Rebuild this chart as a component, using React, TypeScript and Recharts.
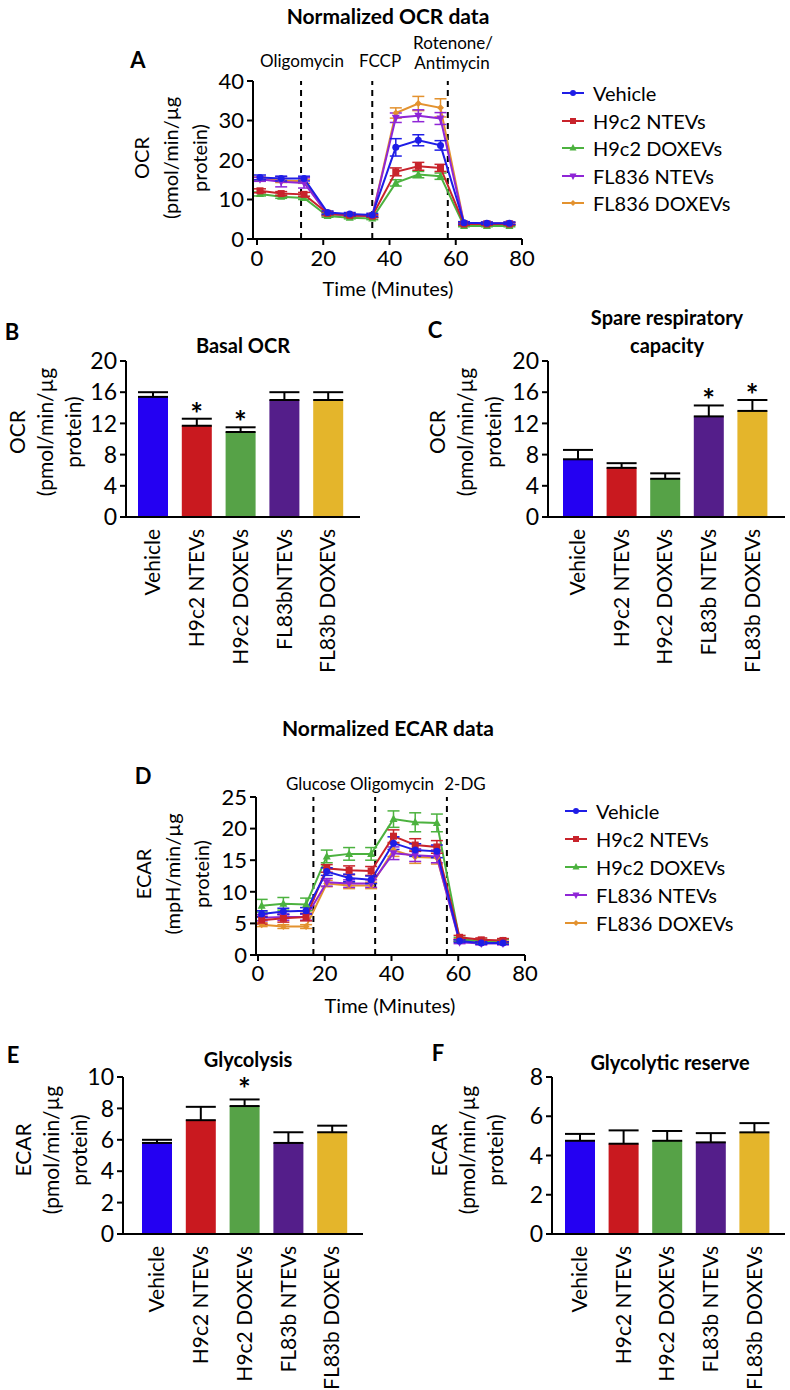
import React from "react";
import {
  Bar,
  Cell,
  ComposedChart,
  ErrorBar,
  Line,
  LineChart,
  ReferenceLine,
  XAxis,
  YAxis,
} from "recharts";

const FONT = "Lato, 'Open Sans', sans-serif";

// series shared by both time-course panels
const groups = ["Vehicle", "H9c2 NTEVs", "H9c2 DOXEVs", "FL836 NTEVs", "FL836 DOXEVs"];
const lineColors = ["#1f1de6", "#c8232b", "#4cb23f", "#8f26d6", "#e3922f"];
const markerShapes = ["circle", "square", "triangle", "triangleDown", "diamond"];

// bar panels
const barCategoriesB = ["Vehicle", "H9c2 NTEVs", "H9c2 DOXEVs", "FL83bNTEVs", "FL83b DOXEVs"];
const barCategories = ["Vehicle", "H9c2 NTEVs", "H9c2 DOXEVs", "FL83b NTEVs", "FL83b DOXEVs"];
const barColors = ["#2400f2", "#c9191f", "#56a247", "#541e8a", "#e4b52b"];

// A: OCR time course
const ocrTime = [0.9, 7.3, 14.2, 21.3, 28.0, 34.8, 41.9, 48.7, 55.4, 62.5, 69.4, 76.2];
const ocrVehicle = [15.6, 15.3, 15.3, 6.7, 6.3, 6.1, 23.2, 25.0, 23.7, 4.1, 4.0, 4.0];
const ocrH9NT = [12.2, 11.5, 11.3, 6.5, 6.0, 5.8, 17.0, 18.4, 18.0, 3.8, 3.8, 3.8];
const ocrH9DOX = [11.4, 10.7, 10.4, 5.8, 5.4, 5.2, 14.2, 16.3, 15.9, 3.3, 3.3, 3.3];
const ocrFLNT = [15.1, 14.5, 14.2, 6.3, 6.0, 5.8, 30.7, 31.2, 30.5, 3.9, 3.9, 3.9];
const ocrFLDOX = [15.2, 14.8, 14.6, 6.2, 5.9, 5.7, 31.9, 34.3, 33.2, 4.0, 4.0, 4.0];
const ocrVehicleErr = [0.6, 0.6, 0.6, 0.4, 0.4, 0.4, 2.2, 1.4, 1.2, 0.3, 0.3, 0.3];
const ocrH9NTErr = [0.5, 0.5, 0.5, 0.4, 0.3, 0.3, 1.0, 1.0, 0.9, 0.3, 0.3, 0.3];
const ocrH9DOXErr = [0.5, 0.4, 0.4, 0.3, 0.3, 0.3, 0.8, 0.8, 0.8, 0.2, 0.2, 0.2];
const ocrFLNTErr = [0.5, 1.3, 1.3, 0.4, 0.4, 0.4, 1.2, 1.5, 1.5, 0.3, 0.3, 0.3];
const ocrFLDOXErr = [0.5, 0.5, 0.5, 0.4, 0.3, 0.3, 1.3, 1.8, 2.3, 0.3, 0.3, 0.3];
const ocrInjections = [13.3, 34.8, 57.6];
const ocrYTicks = [0, 10, 20, 30, 40];

// D: ECAR time course
const ecarTime = [1.1, 7.6, 14.4, 20.6, 27.3, 33.9, 40.6, 47.1, 53.6, 60.4, 66.9, 73.4];
const ecarVehicle = [6.5, 6.9, 7.0, 13.2, 12.2, 11.9, 17.7, 16.6, 16.4, 2.2, 1.9, 1.9];
const ecarH9NT = [5.5, 5.8, 6.0, 13.7, 13.4, 13.3, 18.8, 17.4, 17.1, 2.8, 2.4, 2.3];
const ecarH9DOX = [7.8, 8.1, 8.0, 15.6, 16.0, 16.0, 21.5, 21.0, 20.9, 2.5, 2.2, 2.2];
const ecarFLNT = [5.9, 6.0, 6.0, 11.5, 11.3, 11.3, 16.1, 15.8, 15.6, 2.0, 1.8, 1.8];
const ecarFLDOX = [4.8, 4.5, 4.5, 11.3, 11.0, 11.0, 16.6, 15.5, 15.4, 2.3, 2.0, 2.0];
const ecarVehicleErr = [0.5, 0.5, 0.5, 0.6, 0.6, 0.6, 1.0, 1.0, 1.0, 0.2, 0.2, 0.2];
const ecarH9NTErr = [0.6, 0.6, 0.6, 0.6, 0.7, 0.7, 1.0, 1.0, 1.0, 0.3, 0.3, 0.3];
const ecarH9DOXErr = [1.0, 1.0, 1.0, 1.0, 1.0, 1.0, 1.3, 1.5, 1.4, 0.3, 0.3, 0.3];
const ecarFLNTErr = [0.5, 0.5, 0.5, 0.6, 0.6, 0.6, 1.0, 1.0, 1.0, 0.2, 0.2, 0.2];
const ecarFLDOXErr = [0.3, 0.3, 0.3, 0.5, 0.5, 0.5, 1.0, 1.0, 1.0, 0.2, 0.2, 0.2];
const ecarInjections = [16.6, 35.1, 56.6];
const ecarYTicks = [0, 5, 10, 15, 20, 25];

const timeTicks = [0, 20, 40, 60, 80];

// B-F bar values (mean, SEM, significance)
const basalMean = [15.4, 11.7, 10.9, 15.0, 15.0];
const basalSem = [0.6, 0.9, 0.6, 1.0, 1.0];
const basalSig = [false, true, true, false, false];
const spareMean = [7.4, 6.3, 4.9, 12.9, 13.6];
const spareSem = [1.2, 0.6, 0.7, 1.4, 1.4];
const spareSig = [false, false, false, true, true];
const glycoMean = [5.8, 7.25, 8.15, 5.8, 6.48];
const glycoSem = [0.2, 0.85, 0.42, 0.68, 0.42];
const glycoSig = [false, false, true, false, false];
const reserveMean = [4.75, 4.6, 4.75, 4.67, 5.18];
const reserveSem = [0.35, 0.68, 0.5, 0.47, 0.47];
const reserveSig = [false, false, false, false, false];
const ocrBarTicks = [0, 4, 8, 12, 16, 20];
const glycoTicks = [0, 2, 4, 6, 8, 10];
const reserveTicks = [0, 2, 4, 6, 8];

function buildSeries(time: number[], means: number[][], errs: number[][]) {
  return time.map((t, i) => {
    const row: Record<string, number> = { t };
    means.forEach((m, s) => {
      row[`s${s}`] = m[i];
      row[`e${s}`] = errs[s][i];
    });
    return row;
  });
}

const ocrData = buildSeries(
  ocrTime,
  [ocrVehicle, ocrH9NT, ocrH9DOX, ocrFLNT, ocrFLDOX],
  [ocrVehicleErr, ocrH9NTErr, ocrH9DOXErr, ocrFLNTErr, ocrFLDOXErr]
);
const ecarData = buildSeries(
  ecarTime,
  [ecarVehicle, ecarH9NT, ecarH9DOX, ecarFLNT, ecarFLDOX],
  [ecarVehicleErr, ecarH9NTErr, ecarH9DOXErr, ecarFLNTErr, ecarFLDOXErr]
);

function Marker({ cx, cy, shape, color, r = 3.5 }: any) {
  if (cx == null || cy == null) return <g />;
  if (shape === "circle") return <circle cx={cx} cy={cy} r={r} fill={color} />;
  if (shape === "square")
    return <rect x={cx - r} y={cy - r} width={2 * r} height={2 * r} fill={color} />;
  if (shape === "triangle")
    return (
      <polygon
        points={`${cx},${cy - r - 1} ${cx - r - 0.5},${cy + r - 0.5} ${cx + r + 0.5},${cy + r - 0.5}`}
        fill={color}
      />
    );
  if (shape === "triangleDown")
    return (
      <polygon
        points={`${cx},${cy + r + 1} ${cx - r - 0.5},${cy - r + 0.5} ${cx + r + 0.5},${cy - r + 0.5}`}
        fill={color}
      />
    );
  return (
    <polygon
      points={`${cx},${cy - r} ${cx + r},${cy} ${cx},${cy + r} ${cx - r},${cy}`}
      fill={color}
    />
  );
}

const axisStroke = { stroke: "#000", strokeWidth: 2 };

type TimeCourseProps = {
  data: Record<string, number>[];
  left: number;
  top: number;
  width: number;
  height: number;
  margin: { top: number; right: number; bottom: number; left: number };
  padLeft: number;
  yDomain: [number, number];
  yTicks: number[];
  injections: number[];
  tickMargin: number;
};

function TimeCourse(p: TimeCourseProps) {
  const order = [4, 3, 2, 1, 0];
  return (
    <div style={{ position: "absolute", left: p.left, top: p.top }}>
      <LineChart width={p.width} height={p.height} data={p.data} margin={p.margin}>
        <XAxis
          dataKey="t"
          type="number"
          domain={[0, 80]}
          ticks={timeTicks}
          interval={0}
          padding={{ left: p.padLeft, right: 0 }}
          height={30}
          axisLine={axisStroke}
          tickLine={axisStroke}
          tickSize={6}
          tickMargin={p.tickMargin}
          tick={{ fill: "#000", fontSize: 22 }}
        />
        <YAxis
          type="number"
          domain={p.yDomain}
          ticks={p.yTicks}
          interval={0}
          width={40}
          axisLine={axisStroke}
          tickLine={axisStroke}
          tickSize={6}
          tickMargin={3}
          tick={{ fill: "#000", fontSize: 22 }}
        />
        {p.injections.map((x) => (
          <ReferenceLine key={x} x={x} stroke="#000" strokeWidth={2} strokeDasharray="6 5" />
        ))}
        {order.map((s) => (
          <Line
            key={s}
            dataKey={`s${s}`}
            stroke={lineColors[s]}
            strokeWidth={2}
            isAnimationActive={false}
            activeDot={false}
            dot={(d: any) => (
              <Marker key={`m${s}-${d.index}`} cx={d.cx} cy={d.cy} shape={markerShapes[s]} color={lineColors[s]} />
            )}
          >
            <ErrorBar dataKey={`e${s}`} direction="y" width={6} strokeWidth={1.5} stroke={lineColors[s]} />
          </Line>
        ))}
      </LineChart>
    </div>
  );
}

function RotatedTick({ x, y, payload }: any) {
  return (
    <text
      x={x}
      y={y}
      transform={`rotate(-90, ${x}, ${y})`}
      textAnchor="end"
      dy="0.35em"
      fontSize={21}
      fill="#000"
    >
      {payload.value}
    </text>
  );
}

type BarPanelProps = {
  categories: string[];
  means: number[];
  sems: number[];
  sig: boolean[];
  left: number;
  top: number;
  width: number;
  height: number;
  margin: { top: number; right: number; bottom: number; left: number };
  padding: { left: number; right: number };
  yDomain: [number, number];
  yTicks: number[];
  starShift: number;
};

function BarPanel(p: BarPanelProps) {
  const data = p.categories.map((name, i) => ({
    name,
    mean: p.means[i],
    sem: [0, p.sems[i]],
    star: p.sig[i] ? p.means[i] + p.sems[i] : null,
  }));
  return (
    <div style={{ position: "absolute", left: p.left, top: p.top }}>
      <ComposedChart width={p.width} height={p.height} data={data} margin={p.margin}>
        <XAxis
          dataKey="name"
          type="category"
          padding={p.padding}
          height={150}
          axisLine={axisStroke}
          tickLine={false}
          tickSize={0}
          tickMargin={12}
          interval={0}
          tick={<RotatedTick />}
        />
        <YAxis
          type="number"
          domain={p.yDomain}
          ticks={p.yTicks}
          interval={0}
          width={40}
          axisLine={axisStroke}
          tickLine={axisStroke}
          tickSize={6}
          tickMargin={3}
          tick={{ fill: "#000", fontSize: 23 }}
        />
        <Bar dataKey="mean" barSize={30} isAnimationActive={false}>
          {data.map((d, i) => (
            <Cell key={d.name} fill={barColors[i]} />
          ))}
          <ErrorBar dataKey="sem" direction="y" width={15} strokeWidth={2} stroke="#000" />
        </Bar>
        <Line
          dataKey="star"
          stroke="none"
          isAnimationActive={false}
          activeDot={false}
          dot={(d: any) =>
            d.value == null || d.cy == null ? (
              <g key={`st${d.index}`} />
            ) : (
              <text
                key={`st${d.index}`}
                x={d.cx}
                y={d.cy + p.starShift}
                textAnchor="middle"
                fontSize={30}
                fontWeight={700}
                fill="#000"
              >
                *
              </text>
            )
          }
        />
      </ComposedChart>
    </div>
  );
}

function Label({ x, y, children, size = 20, bold = false }: any) {
  return (
    <div
      style={{
        position: "absolute",
        left: x,
        top: y,
        transform: "translate(-50%, -50%)",
        fontSize: size,
        fontWeight: bold ? 700 : 400,
        lineHeight: 1,
        whiteSpace: "nowrap",
      }}
    >
      {children}
    </div>
  );
}

function YLabel({ x, y, lines, size = 20, lh = 29 }: any) {
  return (
    <div
      style={{
        position: "absolute",
        left: x,
        top: y,
        transform: "translate(-50%, -50%) rotate(-90deg)",
        fontSize: size,
        lineHeight: `${lh}px`,
        textAlign: "center",
        whiteSpace: "nowrap",
      }}
    >
      {lines.map((l: string) => (
        <div key={l}>{l}</div>
      ))}
    </div>
  );
}

function Legend({ x, y, gap }: { x: number; y: number; gap: number }) {
  return (
    <>
      {groups.map((g, i) => (
        <div
          key={g}
          style={{
            position: "absolute",
            left: x,
            top: y + i * gap - 12,
            height: 24,
            display: "flex",
            alignItems: "center",
            fontSize: 20,
            whiteSpace: "nowrap",
          }}
        >
          <svg width={22} height={12}>
            <line x1={0} y1={6} x2={22} y2={6} stroke={lineColors[i]} strokeWidth={2} />
            <Marker cx={11} cy={6} shape={markerShapes[i]} color={lineColors[i]} r={3} />
          </svg>
          <span style={{ marginLeft: 9 }}>{g}</span>
        </div>
      ))}
    </>
  );
}

export default function App() {
  return (
    <div
      style={{
        position: "absolute",
        left: 0,
        top: 0,
        width: 790,
        height: 1390,
        background: "#fff",
        fontFamily: FONT,
        color: "#000",
        overflow: "hidden",
      }}
    >
      {/* A */}
      <Label x={388} y={15} size={21} bold>Normalized OCR data</Label>
      <Label x={138} y={60} size={22} bold>A</Label>
      <Label x={302} y={60} size={17}>Oligomycin</Label>
      <Label x={380} y={60} size={17}>FCCP</Label>
      <Label x={453} y={42} size={17}>Rotenone/</Label>
      <Label x={452} y={62} size={17}>Antimycin</Label>
      <YLabel x={170} y={158} lines={["OCR", "(pmol/min/µg", "protein)"]} />
      <TimeCourse
        data={ocrData}
        left={150}
        top={60}
        width={390}
        height={230}
        margin={{ top: 21, right: 18, bottom: 21, left: 63 }}
        padLeft={4}
        yDomain={[0, 40]}
        yTicks={ocrYTicks}
        injections={ocrInjections}
        tickMargin={5}
      />
      <Label x={388} y={288}>Time (Minutes)</Label>
      <Legend x={562} y={93} gap={27.5} />

      {/* B */}
      <Label x={12} y={332} size={22} bold>B</Label>
      <Label x={243} y={345} bold>Basal OCR</Label>
      <YLabel x={45} y={432} size={21} lh={28} lines={["OCR", "(pmol/min/µg", "protein)"]} />
      <BarPanel
        categories={barCategoriesB}
        means={basalMean}
        sems={basalSem}
        sig={basalSig}
        left={0}
        top={340}
        width={365}
        height={350}
        margin={{ top: 21, right: 5, bottom: 23, left: 86 }}
        padding={{ left: 5, right: 10 }}
        yDomain={[0, 20]}
        yTicks={ocrBarTicks}
        starShift={6}
      />

      {/* C */}
      <Label x={435} y={330} size={22} bold>C</Label>
      <Label x={667} y={317} bold>Spare respiratory</Label>
      <Label x={667} y={345} bold>capacity</Label>
      <YLabel x={465} y={432} size={21} lh={28} lines={["OCR", "(pmol/min/µg", "protein)"]} />
      <BarPanel
        categories={barCategories}
        means={spareMean}
        sems={spareSem}
        sig={spareSig}
        left={420}
        top={340}
        width={370}
        height={350}
        margin={{ top: 21, right: 5, bottom: 23, left: 88 }}
        padding={{ left: 8, right: 11 }}
        yDomain={[0, 20]}
        yTicks={ocrBarTicks}
        starShift={6}
      />

      {/* D */}
      <Label x={388} y={727} size={21} bold>Normalized ECAR data</Label>
      <Label x={143} y={776} size={22} bold>D</Label>
      <Label x={360} y={783} size={17}>Glucose Oligomycin</Label>
      <Label x={465} y={783} size={17}>2-DG</Label>
      <YLabel x={172} y={874} lines={["ECAR", "(mpH/min/µg", "protein)"]} />
      <TimeCourse
        data={ecarData}
        left={150}
        top={770}
        width={390}
        height={240}
        margin={{ top: 27, right: 15, bottom: 25, left: 66 }}
        padLeft={2}
        yDomain={[0, 25]}
        yTicks={ecarYTicks}
        injections={ecarInjections}
        tickMargin={4}
      />
      <Label x={390} y={1005}>Time (Minutes)</Label>
      <Legend x={565} y={811} gap={28} />

      {/* E */}
      <Label x={13} y={1055} size={22} bold>E</Label>
      <Label x={248} y={1059} bold>Glycolysis</Label>
      <YLabel x={51} y={1150} size={21} lh={28} lines={["ECAR", "(pmol/min/µg", "protein)"]} />
      <BarPanel
        categories={barCategories}
        means={glycoMean}
        sems={glycoSem}
        sig={glycoSig}
        left={0}
        top={1056}
        width={368}
        height={334}
        margin={{ top: 21, right: 5, bottom: 6, left: 83 }}
        padding={{ left: 12, right: 9 }}
        yDomain={[0, 10]}
        yTicks={glycoTicks}
        starShift={1}
      />

      {/* F */}
      <Label x={438} y={1053} size={22} bold>F</Label>
      <Label x={670} y={1062} bold>Glycolytic reserve</Label>
      <YLabel x={467} y={1150} size={21} lh={28} lines={["ECAR", "(pmol/min/µg", "protein)"]} />
      <BarPanel
        categories={barCategories}
        means={reserveMean}
        sems={reserveSem}
        sig={reserveSig}
        left={420}
        top={1056}
        width={370}
        height={334}
        margin={{ top: 21, right: 5, bottom: 6, left: 92 }}
        padding={{ left: 6, right: 9 }}
        yDomain={[0, 8]}
        yTicks={reserveTicks}
        starShift={0}
      />
    </div>
  );
}
